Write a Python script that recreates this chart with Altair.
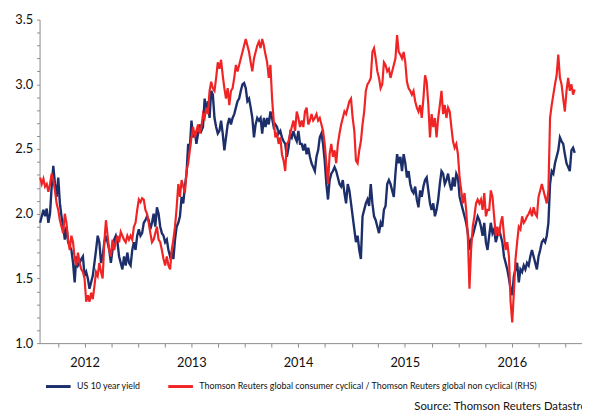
import altair as alt
import pandas as pd

start_date = "2012-01-31"
step = "135h"

us10 = [
    # 2012
    1.93, 1.98, 2.03, 1.98, 2.04, 1.93, 2.00, 2.21, 2.37, 2.23,
    2.13, 2.28, 2.08, 1.98, 1.90, 1.80, 1.90, 1.78, 1.75, 1.72,
    1.62, 1.47, 1.67, 1.60, 1.62, 1.65, 1.67, 1.52, 1.55, 1.50,
    1.42, 1.47, 1.52, 1.62, 1.72, 1.83, 1.78, 1.62, 1.67, 1.78,
    1.83, 1.78, 1.72, 1.62, 1.72, 1.80, 1.83, 1.78, 1.67, 1.62,
    1.57,
    # late 2012 - 2013
    1.67, 1.60, 1.70, 1.62, 1.60, 1.72, 1.78, 1.72, 1.83, 1.88,
    1.83, 1.85, 1.93, 1.95, 1.98, 1.95, 1.88, 1.93, 2.00, 1.90,
    2.05, 2.00, 1.90, 1.85, 1.83, 1.78, 1.80, 1.72, 1.67, 1.70,
    1.65, 1.80, 1.90, 1.93, 1.98, 2.13, 2.08, 2.21, 2.31, 2.54,
    2.51, 2.72, 2.59, 2.64, 2.54, 2.62, 2.69, 2.64, 2.67, 2.89,
    2.79, 2.87, 2.74, 2.95,
    # late 2013 - 2014
    2.92, 2.74, 2.67, 2.62, 2.64, 2.72, 2.62, 2.49, 2.59, 2.69,
    2.74, 2.69, 2.74, 2.77, 2.82, 2.87, 2.89, 2.95, 3.00, 3.01,
    2.97, 2.87, 2.89, 2.82, 2.74, 2.59, 2.69, 2.74, 2.72, 2.74,
    2.62, 2.74, 2.67, 2.74, 2.69, 2.79, 2.74, 2.67, 2.69, 2.67,
    2.62, 2.64, 2.59, 2.56, 2.54, 2.44, 2.51, 2.62, 2.59, 2.64,
    2.59, 2.56, 2.64, 2.54,
    # late 2014 - 2015
    2.54, 2.49, 2.54, 2.46, 2.51, 2.44, 2.39, 2.36, 2.33, 2.44,
    2.49, 2.59, 2.62, 2.54, 2.41, 2.23, 2.11, 2.26, 2.31, 2.33,
    2.36, 2.33, 2.28, 2.23, 2.21, 2.26, 2.16, 2.08, 2.23, 2.18,
    2.08, 1.98, 1.88, 1.78, 1.83, 1.72, 1.65, 1.98, 2.03, 2.08,
    2.11, 2.06, 2.23, 2.08, 1.98, 1.95, 1.90, 1.85, 1.93, 1.90,
    2.03, 2.06, 2.23, 2.26,
    # 2015 - early 2016
    2.23, 2.18, 2.13, 2.31, 2.46, 2.39, 2.44, 2.33, 2.46, 2.39,
    2.28, 2.33, 2.23, 2.18, 2.16, 2.21, 2.11, 2.05, 2.18, 2.13,
    2.21, 2.26, 2.28, 2.18, 2.08, 2.03, 2.08, 1.98, 2.03, 2.11,
    2.23, 2.33, 2.31, 2.23, 2.26, 2.31, 2.23, 2.18, 2.28, 2.21,
    2.31, 2.28, 2.13, 2.08, 2.03, 1.98, 1.93, 1.85, 1.72, 1.80,
    1.83, 1.88, 1.93, 1.98,
    # 2016 - early 2017
    1.95, 1.90, 1.83, 1.93, 1.78, 1.72, 1.83, 1.93, 1.85, 1.88,
    1.78, 1.83, 1.88, 1.83, 1.78, 1.67, 1.62, 1.57, 1.50, 1.42,
    1.37, 1.52, 1.57, 1.62, 1.47, 1.57, 1.55, 1.60, 1.57, 1.62,
    1.60, 1.67, 1.72, 1.67, 1.62, 1.57, 1.67, 1.72, 1.78, 1.80,
    1.78, 1.83, 1.93, 2.23, 2.33, 2.31, 2.39, 2.44, 2.49, 2.59,
    2.56, 2.54, 2.46, 2.39, 2.36, 2.33, 2.49, 2.51, 2.47,
]

ratio = [
    # 2012
    2.28, 2.23, 2.27, 2.21, 2.23, 2.17, 2.23, 2.31, 2.26, 2.18,
    2.08, 2.03, 1.95, 1.90, 1.85, 2.00, 1.93, 1.80, 1.72, 1.83,
    1.78, 1.65, 1.60, 1.70, 1.62, 1.57, 1.55, 1.50, 1.32, 1.37,
    1.32, 1.39, 1.34, 1.44, 1.55, 1.52, 1.62, 1.55, 1.50, 1.78,
    1.95, 1.83, 1.72, 1.67, 1.80, 1.72, 1.78, 1.83, 1.78, 1.86,
    1.83,
    # late 2012 - 2013
    1.80, 1.78, 1.83, 1.80, 1.83, 1.80, 1.90, 1.93, 2.03, 2.11,
    2.09, 2.12, 2.11, 2.03, 2.00, 1.93, 1.85, 1.78, 1.80, 1.85,
    1.90, 1.80, 1.78, 1.72, 1.65, 1.60, 1.67, 1.60, 1.57, 1.72,
    1.80, 1.90, 2.05, 2.23, 2.13, 2.26, 2.21, 2.16, 2.33, 2.39,
    2.49, 2.59, 2.67, 2.59, 2.64, 2.69, 2.62, 2.67, 2.77, 2.74,
    2.82, 2.77, 2.95, 3.02,
    # late 2013 - 2014
    2.97, 2.95, 3.05, 3.17, 3.12, 3.19, 3.07, 2.97, 2.89, 2.97,
    2.84, 2.95, 2.97, 3.05, 3.15, 3.10, 3.15, 3.20, 3.25, 3.30,
    3.35, 3.30, 3.25, 3.17, 3.10, 3.20, 3.25, 3.30, 3.33, 3.28,
    3.35, 3.30, 3.23, 3.17, 3.05, 3.15, 2.89, 2.72, 2.59, 2.62,
    2.54, 2.59, 2.46, 2.41, 2.33, 2.54, 2.56, 2.62, 2.67, 2.72,
    2.64, 2.79, 2.74, 2.67,
    # late 2014 - 2015
    2.72, 2.67, 2.79, 2.82, 2.69, 2.72, 2.77, 2.72, 2.74, 2.77,
    2.72, 2.74, 2.69, 2.64, 2.54, 2.39, 2.23, 2.46, 2.54, 2.44,
    2.49, 2.39, 2.54, 2.62, 2.69, 2.74, 2.79, 2.77, 2.82, 2.87,
    2.89, 2.74, 2.64, 2.41, 2.39, 2.49, 2.56, 2.69, 2.79, 2.95,
    3.00, 3.02, 3.05, 3.25, 3.28, 3.20, 3.10, 3.05, 2.97, 3.00,
    3.17, 3.15, 3.10, 3.12,
    # 2015 - early 2016
    3.05, 3.10, 3.15, 3.20, 3.38, 3.25, 3.23, 3.20, 3.25, 3.17,
    3.02, 2.97, 2.95, 2.92, 2.95, 2.87, 2.82, 2.79, 2.84, 2.74,
    2.89, 3.07, 3.02, 2.84, 2.59, 2.77, 2.67, 2.74, 2.59, 2.74,
    2.84, 2.95, 2.77, 2.84, 2.74, 2.82, 2.79, 2.67, 2.56, 2.51,
    2.54, 2.46, 2.28, 2.18, 2.08, 2.16, 2.03, 1.83, 1.42, 1.72,
    1.90, 1.98, 2.08, 2.11,
    # 2016 - early 2017
    2.08, 2.11, 2.03, 2.16, 1.98, 2.03, 2.03, 2.18, 2.13, 1.98,
    1.83, 1.90, 1.83, 1.93, 1.98, 1.83, 1.72, 1.78, 1.67, 1.32,
    1.16, 1.39, 1.65, 1.78, 1.90, 1.88, 1.98, 1.93, 1.95, 1.98,
    2.00, 2.03, 1.98, 2.05, 2.00, 1.98, 2.13, 2.18, 2.23, 2.18,
    2.13, 2.08, 2.18, 2.74, 2.84, 2.92, 3.00, 3.07, 3.23, 3.05,
    3.00, 2.89, 2.79, 2.95, 3.05, 2.95, 3.00, 2.92, 2.96,
]

s1 = "US 10 year yield"
s2 = "Thomson Reuters global consumer cyclical / Thomson Reuters global non cyclical (RHS)"
series_names = [s1, s2]
series_colors = ["#1d2f6b", "#f02424"]

y_ticks = [round(1.0 + 0.1 * i, 1) for i in range(26)]
x_tick_years = [2012, 2013, 2014, 2015, 2016, 2017]
x_tick_months = [1, 4, 7, 10]
source_text = "Source: Thomson Reuters Datastream"

n = len(us10)
dates = pd.date_range(start_date, periods=n, freq=step).strftime("%Y-%m-%dT%H:%M").tolist()

df1 = pd.DataFrame({"date": dates, "value": us10, "series": s1})
df2 = pd.DataFrame({"date": dates[:len(ratio)], "value": ratio, "series": s2})

x_values = [
    alt.DateTime(year=y, month=m, date=1)
    for y in x_tick_years for m in x_tick_months
    if (y, m) > (2012, 1) and (y, m) <= (2017, 1)
]

gray = "#8a8a8a"
font = "Lato"

x_enc = alt.X(
    "date:T",
    scale=alt.Scale(domain=[alt.DateTime(year=2012, month=1, date=29),
                            alt.DateTime(year=2017, month=2, date=26)]),
    axis=alt.Axis(
        values=x_values,
        labelExpr="month(datum.value) == 6 ? timeFormat(datum.value, '%Y') : ''",
        title=None, grid=False, tickSize=4, tickColor=gray, domainColor=gray,
        labelFontSize=13, labelFont=font, labelColor="#111", labelPadding=10,
        labelOverlap=False, labelFlush=False,
    ),
)
y_enc = alt.Y(
    "value:Q",
    scale=alt.Scale(domain=[1.0, 3.5], nice=False, zero=False),
    axis=alt.Axis(
        values=y_ticks,
        labelExpr="abs(datum.value * 2 - round(datum.value * 2)) < 0.001 ? format(datum.value, '.1f') : ''",
        title=None, grid=False, tickSize=3, tickColor=gray, domainColor=gray,
        labelFontSize=13, labelFont=font, labelColor="#111", labelPadding=4,
        labelOverlap=False,
    ),
)
color_enc = alt.Color(
    "series:N",
    scale=alt.Scale(domain=series_names, range=series_colors),
    legend=alt.Legend(
        orient="none", legendX=5, legendY=358, direction="horizontal",
        title=None, symbolType="stroke", symbolSize=625, symbolStrokeWidth=3,
        labelFontSize=9, labelFont=font, labelColor="#111", labelLimit=1000,
        columnPadding=21, labelOffset=5, padding=0,
    ),
)

blue = alt.Chart(df1).mark_line(strokeWidth=2.4).encode(x=x_enc, y=y_enc, color=color_enc)
red = alt.Chart(df2).mark_line(strokeWidth=2.2).encode(x=x_enc, y=y_enc, color=color_enc)

chart = alt.layer(blue, red).properties(
    width=550,
    height=328,
    autosize=alt.AutoSizeParams(type="none"),
    padding={"left": 32, "top": 9, "right": 0, "bottom": 66},
    title=alt.TitleParams(
        text=source_text, orient="bottom", anchor="start", frame="group",
        dx=380, offset=9, baseline="top", fontSize=11.5, font=font,
        fontWeight="normal", color="#111",
    ),
).configure_view(stroke=None)

chart.save("out.html", embed_options={"renderer": "svg", "actions": False})
